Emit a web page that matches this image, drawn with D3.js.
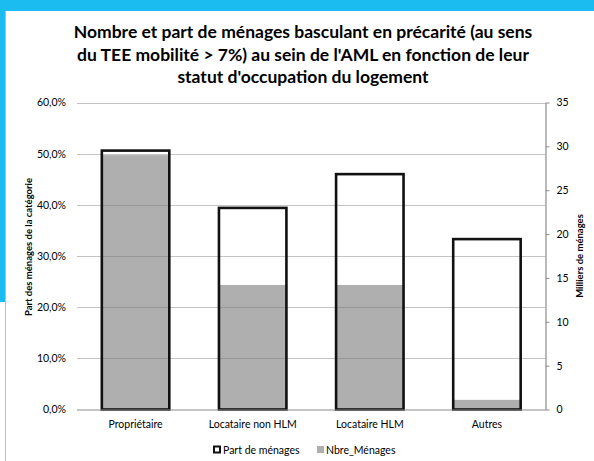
<!DOCTYPE html>
<html>
<head>
<meta charset="utf-8">
<script src="https://cdn.jsdelivr.net/npm/d3@7"></script>
<style>
  html, body { margin: 0; padding: 0; background: #fff; }
  svg { display: block; }
  text { font-family: Lato, "Open Sans", sans-serif; fill: #000; }
</style>
</head>
<body>
<svg id="chart" width="594" height="461"></svg>
<script>
// Housing tenure categories
const categories = ["Propriétaire", "Locataire non HLM", "Locataire HLM", "Autres"];
// Share of households tipping into precarity (%), left axis
const partMenages = [50.6, 39.4, 46.0, 33.3];
// Number of households (thousands), right axis
const nbreMenages = [29.0, 14.2, 14.2, 1.1];
// Axis ticks
const leftTicks = [0, 10, 20, 30, 40, 50, 60];
const rightTicks = [0, 5, 10, 15, 20, 25, 30, 35];
const titleLines = [
  "Nombre et part de ménages basculant en précarité (au sens",
  "du TEE mobilité > 7%) au sein de l'AML en fonction de leur",
  "statut d'occupation du logement"
];
const legendLabels = ["Part de ménages", "Nbre_Ménages"];

const svg = d3.select("#chart");
const W = 594, H = 461;

// Frame: blue band and card border
svg.append("rect").attr("x", 0).attr("y", 0).attr("width", W).attr("height", 11).attr("fill", "#1bbcef");
svg.append("rect").attr("x", 0).attr("y", 0).attr("width", 5).attr("height", 302).attr("fill", "#1bbcef");
svg.append("line").attr("x1", 5.5).attr("x2", 5.5).attr("y1", 11).attr("y2", H)
  .attr("stroke", "#bdbdbd").attr("stroke-width", 1);

const plot = { left: 77, right: 545.5, top: 102.5, bottom: 409.5 };

const x = d3.scaleBand().domain(categories)
  .range([plot.left, plot.right])
  .paddingInner(0.424).paddingOuter(0.212);
const yL = d3.scaleLinear().domain([0, 60]).range([plot.bottom, plot.top]);
const yR = d3.scaleLinear().domain([0, 35]).range([plot.bottom, plot.top]);

// Title
svg.append("text")
  .attr("x", 303).attr("y", 38)
  .attr("text-anchor", "middle")
  .attr("font-size", 17.5).attr("font-weight", "bold")
  .selectAll("tspan").data(titleLines).join("tspan")
  .attr("x", 303).attr("dy", (d, i) => i === 0 ? 0 : 22.5)
  .text(d => d);

// Gridlines
svg.append("g").selectAll("line").data(leftTicks.filter(t => t > 0)).join("line")
  .attr("x1", plot.left).attr("x2", plot.right)
  .attr("y1", d => Math.round(yL(d)) + 0.5).attr("y2", d => Math.round(yL(d)) + 0.5)
  .attr("stroke", "#c4c4c4").attr("stroke-width", 1.2);

// Secondary series: grey filled bars
svg.append("g").selectAll("rect").data(nbreMenages).join("rect")
  .attr("x", (d, i) => x(categories[i]))
  .attr("width", x.bandwidth())
  .attr("y", d => yR(d))
  .attr("height", d => yR(0) - yR(d))
  .attr("fill", "#7a7a7a").attr("fill-opacity", 0.6);

// Primary series: outlined bars
svg.append("g").selectAll("rect").data(partMenages).join("rect")
  .attr("x", (d, i) => x(categories[i]))
  .attr("width", x.bandwidth())
  .attr("y", d => yL(d))
  .attr("height", d => yL(0) - yL(d))
  .attr("fill", "none").attr("stroke", "#111").attr("stroke-width", 2.6);

// Bottom axis line
svg.append("line").attr("x1", plot.left).attr("x2", plot.right)
  .attr("y1", plot.bottom + 0.5).attr("y2", plot.bottom + 0.5)
  .attr("stroke", "#8c8c8c").attr("stroke-width", 1.2);

// Left axis
const axL = svg.append("g").attr("transform", `translate(${plot.left},0)`)
  .call(d3.axisLeft(yL).tickValues(leftTicks).tickSize(0).tickPadding(11)
    .tickFormat(d => d3.format(".1f")(d).replace(".", ",") + "%"));
axL.select(".domain").remove();
axL.selectAll("text").attr("font-size", 10.5).attr("fill", "#333")
  .style("font-family", "Lato, sans-serif");

// Right axis
const axR = svg.append("g").attr("transform", `translate(${plot.right},0)`)
  .call(d3.axisRight(yR).tickValues(rightTicks).tickSize(4).tickPadding(7).tickSizeOuter(0));
axR.select(".domain").attr("stroke", "#8c8c8c").attr("stroke-width", 1.2);
axR.selectAll(".tick line").attr("stroke", "#8c8c8c");
axR.selectAll("text").attr("font-size", 10.5).attr("fill", "#333")
  .style("font-family", "Lato, sans-serif");

// Category axis
const axB = svg.append("g").attr("transform", `translate(0,${plot.bottom})`)
  .call(d3.axisBottom(x).tickSize(0).tickPadding(11));
axB.select(".domain").remove();
axB.selectAll("text").attr("font-size", 10.5).attr("fill", "#222")
  .style("font-family", "Lato, sans-serif");

// Axis titles
svg.append("text")
  .attr("transform", `translate(32,247) rotate(-90)`)
  .attr("text-anchor", "middle").attr("font-size", 9.5).attr("font-weight", "bold")
  .text("Part des ménages de la catégorie");
svg.append("text")
  .attr("transform", `translate(583,256) rotate(-90)`)
  .attr("text-anchor", "middle").attr("font-size", 9.5).attr("font-weight", "bold")
  .text("Milliers de ménages");

// Legend
const lg = svg.append("g").attr("transform", "translate(213,450)");
lg.append("rect").attr("x", 1).attr("y", -3.5).attr("width", 6).attr("height", 6)
  .attr("fill", "#fff").attr("stroke", "#111").attr("stroke-width", 2);
lg.append("text").attr("x", 10).attr("y", 3.5).attr("font-size", 10.5).attr("fill", "#222").text(legendLabels[0]);
lg.append("rect").attr("x", 104).attr("y", -4).attr("width", 7).attr("height", 7)
  .attr("fill", "#7a7a7a").attr("fill-opacity", 0.6);
lg.append("text").attr("x", 113).attr("y", 3.5).attr("font-size", 10.5).attr("fill", "#222").text(legendLabels[1]);
</script>
</body>
</html>
